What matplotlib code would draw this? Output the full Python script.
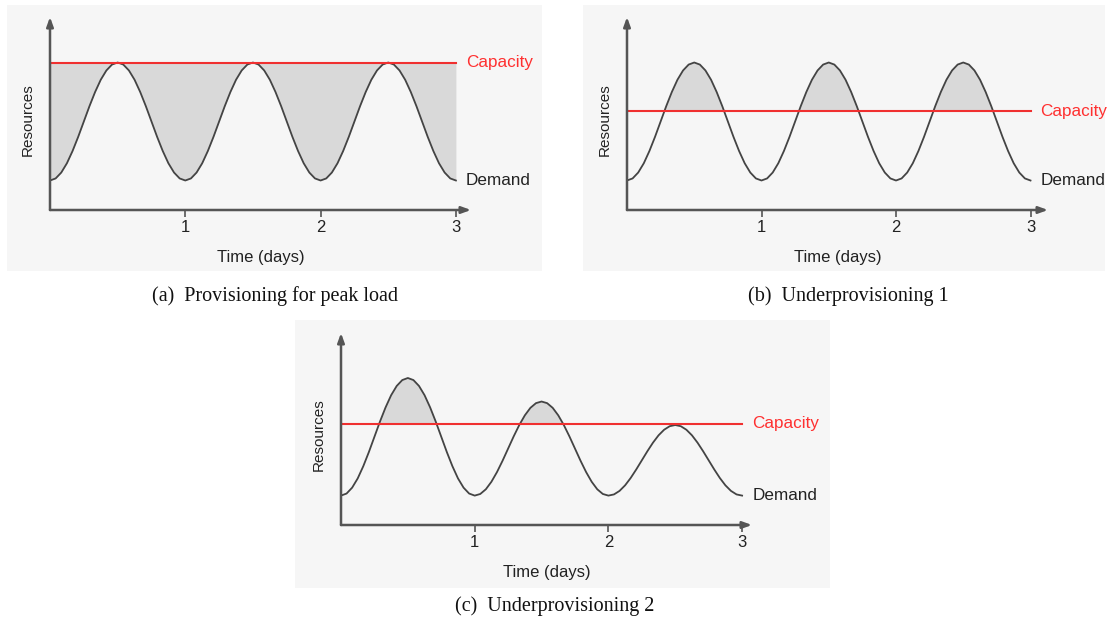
import matplotlib
matplotlib.use("Agg")
import matplotlib.pyplot as plt
from matplotlib.patches import Rectangle
import numpy as np

# time grid: 24 readings per day, 0..3 days
days = np.arange(73) / 24.0

# demand readings for one full cycle, peak 1.00 / 0.84 / 0.68
cycle_hi = [0.200, 0.214, 0.254, 0.317, 0.400, 0.496, 0.600, 0.704, 0.800, 0.883, 0.946, 0.986,
            1.000, 0.986, 0.946, 0.883, 0.800, 0.704, 0.600, 0.496, 0.400, 0.317, 0.254, 0.214]
cycle_mid = [0.200, 0.211, 0.243, 0.294, 0.360, 0.437, 0.520, 0.603, 0.680, 0.746, 0.797, 0.829,
             0.840, 0.829, 0.797, 0.746, 0.680, 0.603, 0.520, 0.437, 0.360, 0.294, 0.243, 0.211]
cycle_lo = [0.200, 0.208, 0.232, 0.270, 0.320, 0.378, 0.440, 0.502, 0.560, 0.610, 0.648, 0.672,
            0.680, 0.672, 0.648, 0.610, 0.560, 0.502, 0.440, 0.378, 0.320, 0.270, 0.232, 0.208]

demand_a = cycle_hi + cycle_hi + cycle_hi + [0.200]
demand_b = cycle_hi + cycle_hi + cycle_hi + [0.200]
demand_c = cycle_hi + cycle_mid + cycle_lo + [0.200]
capacity_a = 1.00
capacity_b = 0.67
capacity_c = 0.69
tick_days = [1, 2, 3]
captions = ["(a)  Provisioning for peak load", "(b)  Underprovisioning 1", "(c)  Underprovisioning 2"]

W, H = 1112, 624
BG = "#f6f6f6"
FILL = "#d9d9d9"
LINE = "#444444"
AXC = "#555555"
RED = "#f03030"
SANS = "Liberation Sans"

fig = plt.figure(figsize=(W / 100, H / 100), dpi=100)
fig.patch.set_facecolor("white")


def px_rect(l, t, r, b):
    return [l / W, 1 - b / H, (r - l) / W, (b - t) / H]


def panel(bg, box, demand, capacity, full_fill, caption, cap_xy, px_day, px_unit):
    bl, bt, br, bb = bg
    fig.patches.append(Rectangle((bl / W, 1 - bb / H), (br - bl) / W, (bb - bt) / H,
                                 transform=fig.transFigure, facecolor=BG, edgecolor="none", zorder=-5))
    l, t, r, b = box
    ax = fig.add_axes(px_rect(l, t, r, b))
    ax.set_facecolor("none")
    ax.set_xlim(0, (r - l) / px_day)
    ax.set_ylim(0, (b - t) / px_unit)
    for s in ax.spines.values():
        s.set_visible(False)
    # axis arrows
    arrow = dict(arrowstyle="-|>,head_length=0.55,head_width=0.2", color=AXC, lw=1.8,
                 shrinkA=0, shrinkB=0)
    ax.annotate("", xy=(1, 0), xytext=(0, 0), xycoords="axes fraction", arrowprops=arrow)
    ax.annotate("", xy=(0, 1), xytext=(0, 0), xycoords="axes fraction", arrowprops=arrow)
    d = np.array(demand)
    if full_fill:
        ax.fill_between(days, d, capacity, color=FILL, lw=0)
    else:
        ax.fill_between(days, d, capacity, where=d > capacity, interpolate=True, color=FILL, lw=0)
    ax.plot(days, d, color=LINE, lw=1.3, solid_joinstyle="round")
    ax.plot([0, 3], [capacity, capacity], color=RED, lw=1.5)
    ax.text(3.075, capacity, "Capacity", color="#ff3030", fontsize=12.3, family=SANS, va="center", ha="left")
    ax.text(3.075, 0.2, "Demand", color="#222222", fontsize=12.3, family=SANS, va="center", ha="left")
    ax.set_xticks(tick_days)
    ax.set_xticklabels([str(v) for v in tick_days], fontsize=12, family=SANS, color="#222222")
    ax.set_yticks([])
    ax.tick_params(axis="x", direction="out", length=5, width=1.2, color=AXC, pad=2)
    ax.set_xlabel("Time (days)", fontsize=12, family=SANS, color="#222222", labelpad=11)
    ax.set_ylabel("Resources", fontsize=11, family=SANS, color="#222222")
    ax.yaxis.set_label_coords(-15 / (r - l), 0.47)
    fig.text(cap_xy[0] / W, 1 - cap_xy[1] / H, caption, fontsize=14.5, family="Liberation Serif",
             ha="center", va="center", color="#111111")
    return ax


panel((7, 5, 542, 271), (50, 17, 471, 210), demand_a, capacity_a, True, captions[0], (275, 296), 135.3, 147.5)
panel((583, 5, 1105, 271), (627, 17, 1048, 210), demand_b, capacity_b, False, captions[1], (848, 296), 134.5, 147.5)
panel((295, 320, 830, 588), (341, 333, 752, 525), demand_c, capacity_c, False, captions[2], (555, 606), 133.7, 147)

fig.savefig("out.png", dpi=100)
